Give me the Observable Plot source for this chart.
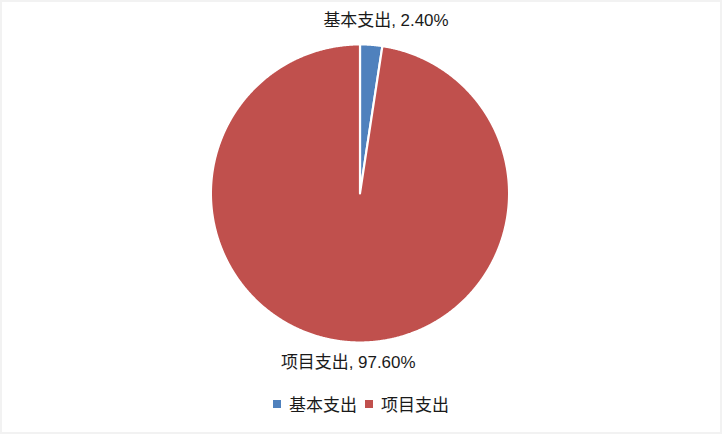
<!DOCTYPE html>
<html>
<head>
<meta charset="utf-8">
<script src="https://cdn.jsdelivr.net/npm/d3@7"></script>
<script src="https://cdn.jsdelivr.net/npm/@observablehq/plot@0.6"></script>
<style>
  html, body { margin: 0; padding: 0; background: #f2f2f2; }
  #frame { position: absolute; left: 2px; top: 2px; width: 718px; height: 430px; background: #fff; overflow: hidden; }
  #chart { position: absolute; left: -2px; top: -2px; }
  #legend { position: absolute; left: -2px; top: 389px; width: 722px; text-align: center; font-family: "Liberation Sans", "Noto Sans CJK SC", sans-serif; font-size: 17px; color: #1a1a1a; }
  .item { display: inline-flex; align-items: center; margin: 0 4px; }
  .sw { width: 8px; height: 8px; display: inline-block; margin-right: 8px; }
</style>
</head>
<body>
<div id="frame">
  <div id="chart"></div>
  <div id="legend"></div>
</div>
<script>
const categories = ["基本支出", "项目支出"];
const shares = [2.40, 97.60];
const labels = ["基本支出, 2.40%", "项目支出, 97.60%"];
const colors = ["#4F81BD", "#C0504D"];

const arcs = d3.pie().sort(null).value(d => d)(shares);

// polygon vertices on the unit circle (angles clockwise from 12 o'clock)
const pts = [];
arcs.forEach((a, i) => {
  const n = Math.max(4, Math.ceil((a.endAngle - a.startAngle) / 0.005));
  pts.push({cat: categories[i], x: 0, y: 0});
  for (let k = 0; k <= n; k++) {
    const t = a.startAngle + (a.endAngle - a.startAngle) * k / n;
    pts.push({cat: categories[i], x: Math.sin(t), y: Math.cos(t)});
  }
  pts.push({cat: categories[i], x: 0, y: 0});
});

// label anchors: small slice label outside its mid-angle; large slice label opposite it (below the pie)
const smallMid = (arcs[0].startAngle + arcs[0].endAngle) / 2;
const labelRadius = [1.16, 1.14];
const labelDx = [13, 1];
const labelData = [
  {label: labels[0], x: Math.sin(smallMid) * labelRadius[0], y: Math.cos(smallMid) * labelRadius[0]},
  {label: labels[1], x: -Math.sin(smallMid) * labelRadius[1], y: -Math.cos(smallMid) * labelRadius[1]}
];

const cx = 360.5, cy = 193.5, R = 149.5;

const plot = Plot.plot({
  width: 722,
  height: 385,
  margin: 0,
  x: {domain: [-1, 1], range: [cx - R, cx + R], axis: null},
  y: {domain: [-1, 1], range: [cy + R, cy - R], axis: null},
  color: {domain: categories, range: colors},
  style: {background: "transparent", overflow: "visible"},
  marks: [
    Plot.line(pts, {x: "x", y: "y", z: "cat", fill: "cat", stroke: "#fff", strokeWidth: 2.2, strokeLinejoin: "round", curve: "linear"}),
    Plot.text(labelData.slice(0, 1), {x: "x", y: "y", text: "label", dx: labelDx[0], fontSize: 17, fill: "#1a1a1a",
      fontFamily: "Liberation Sans, Noto Sans CJK SC, sans-serif"}),
    Plot.text(labelData.slice(1), {x: "x", y: "y", text: "label", dx: labelDx[1], fontSize: 17, fill: "#1a1a1a",
      fontFamily: "Liberation Sans, Noto Sans CJK SC, sans-serif"})
  ]
});
document.getElementById("chart").appendChild(plot);

const legend = document.getElementById("legend");
categories.forEach((c, i) => {
  const it = document.createElement("span");
  it.className = "item";
  const sw = document.createElement("span");
  sw.className = "sw";
  sw.style.background = colors[i];
  it.appendChild(sw);
  it.appendChild(document.createTextNode(c));
  legend.appendChild(it);
});
</script>
</body>
</html>
